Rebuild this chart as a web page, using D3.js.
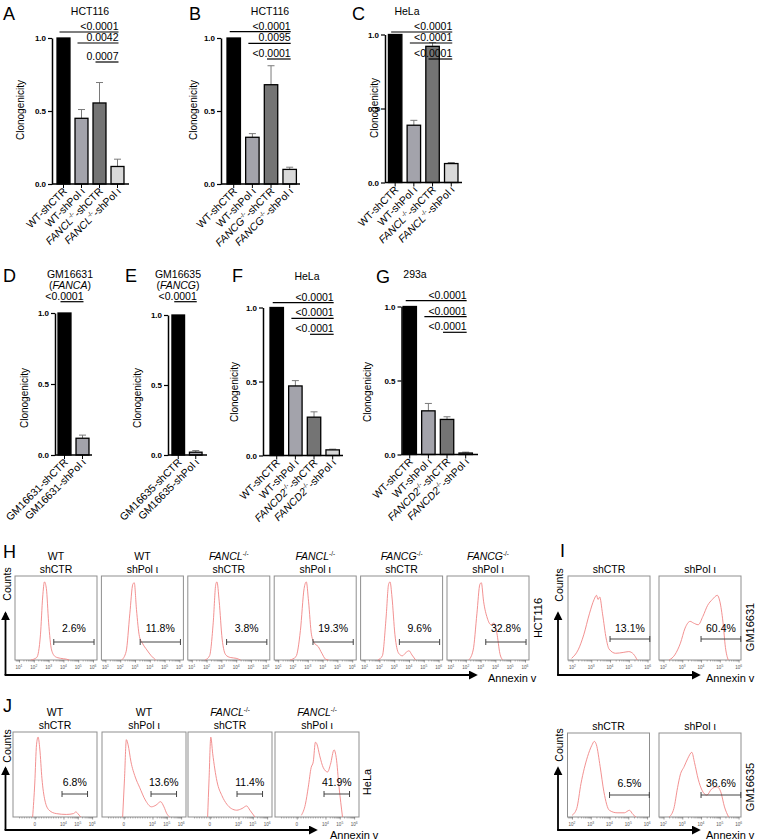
<!DOCTYPE html>
<html><head><meta charset="utf-8">
<script src="https://cdn.jsdelivr.net/npm/d3@7"></script>
<style>body{margin:0;background:#fff}svg{display:block}</style>
</head><body><svg id="c" width="757" height="840"></svg>
<script>
// ================= DATA =================
const yTicks = [0, 0.5, 1.0];
const catsA = ["WT-shCTR", "WT-shPol ι", "FANCL-/--shCTR", "FANCL-/--shPol ι"];
const valsA = [1.0, 0.45, 0.555, 0.12];
const errA  = [0, 0.06, 0.14, 0.05];
const pA    = ["<0.0001", "0.0042", "0.0007"];
const catsB = ["WT-shCTR", "WT-shPol ι", "FANCG-/--shCTR", "FANCG-/--shPol ι"];
const valsB = [1.0, 0.32, 0.68, 0.10];
const errB  = [0, 0.025, 0.13, 0.015];
const pB    = ["<0.0001", "0.0095", "<0.0001"];
const catsC = ["WT-shCTR", "WT-shPol ι", "FANCL-/--shCTR", "FANCL-/--shPol ι"];
const valsC = [1.0, 0.387, 0.92, 0.128];
const errC  = [0, 0.033, 0.025, 0.007];
const pC    = ["<0.0001", "<0.0001", "<0.0001"];
const catsD = ["GM16631-shCTR", "GM16631-shPol ι"];
const valsD = [1.0, 0.118];
const errD  = [0, 0.022];
const pD    = ["<0.0001"];
const catsE = ["GM16635-shCTR", "GM16635-shPol ι"];
const valsE = [1.0, 0.02];
const errE  = [0, 0.012];
const pE    = ["<0.0001"];
const catsF = ["WT-shCTR", "WT-shPol ι", "FANCD2-/--shCTR", "FANCD2-/--shPol ι"];
const valsF = [1.0, 0.47, 0.259, 0.038];
const errF  = [0, 0.036, 0.036, 0.005];
const pF    = ["<0.0001", "<0.0001", "<0.0001"];
const catsG = ["WT-shCTR", "WT-shPol ι", "FANCD2-/--shCTR", "FANCD2-/--shPol ι"];
const valsG = [1.0, 0.295, 0.237, 0.01];
const errG  = [0, 0.05, 0.018, 0.006];
const pG    = ["<0.0001", "<0.0001", "<0.0001"];

// Flow cytometry histograms: [log10 Annexin V, relative counts]
const histH1 = [[1.8,0],[2.2,0.03],[2.45,0.3],[2.6,0.75],[2.72,0.93],[2.85,0.85],[3.0,0.45],[3.2,0.12],[3.45,0.04],[3.8,0.02],[4.2,0.01],[4.4,0]];
const histH2 = [[2.1,0],[2.4,0.1],[2.65,0.55],[2.85,0.9],[2.95,0.92],[3.1,0.6],[3.3,0.28],[3.5,0.2],[3.8,0.12],[4.1,0.05],[4.4,0]];
const histH3 = [[1.9,0],[2.2,0.05],[2.45,0.45],[2.62,0.9],[2.7,0.93],[2.85,0.7],[3.05,0.25],[3.3,0.06],[3.6,0.03],[4.0,0.02],[4.3,0]];
const histH4 = [[1.8,0],[2.2,0.04],[2.5,0.35],[2.75,0.85],[2.9,0.93],[3.05,0.7],[3.25,0.3],[3.45,0.2],[3.7,0.16],[3.95,0.08],[4.2,0.01],[4.4,0]];
const histH5 = [[1.9,0],[2.2,0.05],[2.45,0.5],[2.62,0.9],[2.72,0.93],[2.85,0.75],[3.05,0.3],[3.3,0.08],[3.55,0.05],[3.8,0.09],[4.0,0.11],[4.2,0.06],[4.45,0]];
const histH6 = [[2.2,0],[2.5,0.12],[2.75,0.55],[2.95,0.9],[3.05,0.92],[3.2,0.7],[3.45,0.5],[3.7,0.42],[3.9,0.44],[4.1,0.32],[4.3,0.08],[4.5,0]];
const histI1 = [[1.95,0.02],[2.3,0.12],[2.6,0.3],[2.9,0.55],[3.15,0.72],[3.28,0.77],[3.36,0.72],[3.45,0.75],[3.6,0.55],[3.8,0.25],[3.95,0.13],[4.3,0.08],[4.7,0.09],[5.0,0.1],[5.25,0.07],[5.45,0]];
const histI2 = [[2.3,0],[2.6,0.06],[2.9,0.2],[3.15,0.38],[3.42,0.46],[3.6,0.44],[3.85,0.42],[4.1,0.52],[4.35,0.65],[4.6,0.72],[4.87,0.77],[5.0,0.7],[5.17,0.45],[5.3,0.15],[5.45,0]];
const histI3 = [[2.0,0.02],[2.25,0.1],[2.48,0.4],[2.83,0.72],[3.05,0.85],[3.19,0.9],[3.3,0.86],[3.5,0.6],[3.7,0.3],[3.99,0.08],[4.4,0.05],[4.79,0.05],[5.06,0.08],[5.25,0.03],[5.41,0]];
const histI4 = [[2.3,0],[2.55,0.1],[2.75,0.35],[2.89,0.5],[3.1,0.6],[3.3,0.7],[3.51,0.77],[3.65,0.65],[3.85,0.45],[4.05,0.32],[4.31,0.26],[4.55,0.33],[4.85,0.36],[5.05,0.3],[5.25,0.12],[5.47,0]];
// J: biexponential display units (2 = "0", 4 = 10^4, 5 = 10^5, 6 = 10^6)
const histJ1 = [[1.85,0],[2.0,0.4],[2.12,0.85],[2.23,0.94],[2.35,0.8],[2.5,0.45],[2.7,0.2],[3.0,0.08],[3.5,0.04],[4.2,0.03],[4.7,0.04],[4.87,0.06],[5.0,0.04],[5.2,0]];
const histJ2 = [[1.92,0],[2.05,0.45],[2.18,0.91],[2.3,0.85],[2.5,0.65],[2.8,0.47],[3.1,0.35],[3.5,0.2],[3.93,0.12],[4.25,0.14],[4.57,0.18],[4.8,0.12],[5.0,0.04],[5.2,0]];
const histJ3 = [[1.85,0],[1.95,0.45],[2.07,0.94],[2.2,0.75],[2.5,0.42],[2.85,0.25],[3.19,0.15],[3.5,0.1],[3.88,0.08],[4.25,0.1],[4.57,0.13],[4.8,0.08],[5.15,0]];
const histJ4 = [[2.32,0.02],[2.6,0.15],[2.8,0.35],[3.0,0.58],[3.15,0.65],[3.3,0.88],[3.4,0.86],[3.6,0.72],[3.85,0.58],[4.15,0.53],[4.35,0.62],[4.6,0.79],[4.75,0.7],[4.95,0.35],[5.19,0]];

const pctH  = ["2.6%", "11.8%", "3.8%", "19.3%", "9.6%", "32.8%"];
const pctI1 = ["13.1%", "60.4%"];
const pctI2 = ["6.5%", "36.6%"];
const pctJ  = ["6.8%", "13.6%", "11.4%", "41.9%"];
const headH = [["WT","shCTR"],["WT","shPol ι"],["FANCL-/-","shCTR"],["FANCL-/-","shPol ι"],["FANCG-/-","shCTR"],["FANCG-/-","shPol ι"]];
const headI = [["shCTR"],["shPol ι"]];
const headJ = [["WT","shCTR"],["WT","shPol ι"],["FANCL-/-","shCTR"],["FANCL-/-","shPol ι"]];
const logTicksH = [1, 2, 3, 4, 5, 6];
const logTicksI = [2, 3, 4, 5, 6];
const biexTicksJ = [2, 4, 5, 6];
const biexLabelsJ = ["0", "4", "5", "6"];
const gateH = [3.35, 6.07], gateI = [4.0, 6.12], gateJ = [3.9, 5.68];

// ================= DRAWING =================
const FONT = '"Liberation Sans", Arial, Helvetica, sans-serif';
const svg = d3.select("#c").attr("font-family", FONT);
const barColors4 = ["#000000", "#a3a3ab", "#747474", "#d9d9d9"];
const barColors2 = ["#000000", "#a3a3ab"];
const histColor = "#f08585";

function rich(t, str, fs) {
  const m = str.match(/^(.*?)(FANC[A-Z0-9]+)(-\/-)?(.*)$/);
  if (!m) { t.text(str); return; }
  if (m[1]) t.append("tspan").text(m[1]);
  t.append("tspan").attr("font-style", "italic").text(m[2]);
  if (m[3]) {
    t.append("tspan").attr("font-size", fs * 0.6).attr("dy", -fs * 0.42).text(m[3]);
    if (m[4]) t.append("tspan").attr("dy", fs * 0.42).text(m[4]);
  } else if (m[4]) t.append("tspan").text(m[4]);
}

function letter(l, x, y) {
  svg.append("text").attr("x", x).attr("y", y).attr("font-size", 18).text(l);
}

const barPanels = [
  {L:"A", lx:3, ly:20, title:["HCT116"], tx:90, ty:[15], cats:catsA, vals:valsA, errs:errA, ps:pA,
   ax:52, x0:54.5, x1:126.5, xEnd:129, y0:184, y1:38, pY:[32,43,62], ylx:20, yly:110},
  {L:"B", lx:189, ly:20, title:["HCT116"], tx:270, ty:[15], cats:catsB, vals:valsB, errs:errB, ps:pB,
   ax:221, x0:224.4, x1:299, xEnd:300, y0:184, y1:38, pY:[31.7,43.3,59], ylx:193, yly:110},
  {L:"C", lx:352, ly:20, title:["HeLa"], tx:407, ty:[15], cats:catsC, vals:valsC, errs:errC, ps:pC,
   ax:385, x0:385.8, x1:460.6, xEnd:462, y0:182.5, y1:34.5, pY:[32,43,59], ylx:374, yly:108},
  {L:"D", lx:3, ly:282, title:["GM16631","(FANCA)"], tx:70, ty:[278,289], cats:catsD, vals:valsD, errs:errD, ps:pD,
   ax:55, x0:55.5, x1:91.5, xEnd:92, y0:455, y1:313, pY:[301.7], ylx:24, yly:398},
  {L:"E", lx:125, ly:282, title:["GM16635","(FANCG)"], tx:178, ty:[278,289], cats:catsE, vals:valsE, errs:errE, ps:pE,
   ax:168, x0:169.5, x1:204.5, xEnd:207, y0:455, y1:315, pY:[301.7], ylx:137, yly:398},
  {L:"F", lx:232, ly:282, title:["HeLa"], tx:307, ty:[280], cats:catsF, vals:valsF, errs:errF, ps:pF,
   ax:263, x0:267.4, x1:342, xEnd:343, y0:455.5, y1:307.5, pY:[302.7,318.3,334.3], ylx:234, yly:392},
  {L:"G", lx:376, ly:283, title:["293a"], tx:415, ty:[278], cats:catsG, vals:valsG, errs:errG, ps:pG,
   ax:401.5, x0:400.4, x1:475, xEnd:478, y0:454.5, y1:306.5, pY:[300.7,316.7,332.3], ylx:367, yly:392}
];

function drawBarPanel(p) {
  const g = svg.append("g");
  letter(p.L, p.lx, p.ly);
  p.title.forEach((t, i) => {
    const tt = g.append("text").attr("x", p.tx).attr("y", p.ty[i]).attr("text-anchor", "middle").attr("font-size", 10.5);
    rich(tt, t, 10.5);
  });
  const x = d3.scaleBand().domain(p.cats).range([p.x0, p.x1]).paddingInner(0.28).paddingOuter(0.14);
  const y = d3.scaleLinear().domain([0, 1]).range([p.y0, p.y1]);
  const bw = x.bandwidth();
  const colors = p.cats.length === 4 ? barColors4 : barColors2;
  const eb = g.append("g").attr("stroke", "#7a7a7a").attr("stroke-width", 1);
  p.vals.forEach((v, i) => {
    if (!p.errs[i]) return;
    const cx = x(p.cats[i]) + bw / 2;
    eb.append("line").attr("x1", cx).attr("x2", cx).attr("y1", y(v)).attr("y2", y(v + p.errs[i]));
    eb.append("line").attr("x1", cx - 3.5).attr("x2", cx + 3.5).attr("y1", y(v + p.errs[i])).attr("y2", y(v + p.errs[i]));
  });
  g.selectAll("rect.bar").data(p.vals).join("rect").attr("class", "bar")
    .attr("x", (d, i) => x(p.cats[i])).attr("y", d => y(d))
    .attr("width", bw).attr("height", d => p.y0 - y(d))
    .attr("fill", (d, i) => colors[i]).attr("stroke", "#000").attr("stroke-width", 1.3);
  const ya = g.append("g").attr("transform", `translate(${p.ax},0)`)
    .call(d3.axisLeft(y).tickValues(yTicks).tickFormat(d3.format(".1f")).tickSize(4).tickSizeOuter(0).tickPadding(2));
  ya.select(".domain").attr("stroke-width", 1.5);
  ya.selectAll(".tick line").attr("stroke-width", 1.2);
  ya.selectAll(".tick text").attr("font-family", FONT).attr("font-size", 8).attr("font-weight", "bold");
  const xa = g.append("g").attr("transform", `translate(0,${p.y0})`)
    .call(d3.axisBottom(x).tickSize(4).tickSizeOuter(0).tickFormat(""));
  xa.select(".domain").remove();
  xa.selectAll(".tick line").attr("stroke-width", 1);
  g.append("line").attr("x1", p.ax).attr("x2", p.xEnd).attr("y1", p.y0).attr("y2", p.y0).attr("stroke", "#000").attr("stroke-width", 1.5);
  p.cats.forEach(c => {
    const t = g.append("text").attr("text-anchor", "end").attr("font-size", 10.5)
      .attr("transform", `translate(${x(c) + bw / 2 + 4},${p.y0 + 8}) rotate(-45)`);
    rich(t, c, 10.5);
  });
  g.append("text").attr("transform", `translate(${p.ylx},${p.yly}) rotate(-90)`).attr("text-anchor", "middle")
    .attr("dy", "0.35em").attr("font-size", 10).text("Clonogenicity");
  const last = p.cats[p.cats.length - 1];
  const xe = x(last) + bw / 2 + 1;
  p.ps.forEach((s, i) => {
    const xs = x(p.cats[i]) + bw / 2 - 4;
    g.append("line").attr("x1", xs).attr("x2", xe).attr("y1", p.pY[i]).attr("y2", p.pY[i]).attr("stroke", "#000").attr("stroke-width", 1.2);
    g.append("text").attr("x", xe).attr("y", p.pY[i] - 2).attr("text-anchor", "end").attr("font-size", 10.5).text(s);
  });
}
barPanels.forEach(drawBarPanel);

// ---- flow ----
svg.append("defs").append("marker").attr("id", "arr").attr("viewBox", "0 0 10 10")
  .attr("refX", 8).attr("refY", 5).attr("markerWidth", 9).attr("markerHeight", 9)
  .attr("markerUnits", "userSpaceOnUse").attr("orient", "auto")
  .append("path").attr("d", "M0,0L10,5L0,10z").attr("fill", "#000");

function arrows(x, y, ytip, xtip) {
  svg.append("line").attr("x1", x).attr("x2", x).attr("y1", y).attr("y2", ytip).attr("stroke", "#000").attr("stroke-width", 1.8).attr("marker-end", "url(#arr)");
  svg.append("line").attr("x1", x - 0.9).attr("x2", xtip).attr("y1", y).attr("y2", y).attr("stroke", "#000").attr("stroke-width", 1.8).attr("marker-end", "url(#arr)");
}
function vlabel(t, x, y, fs) {
  svg.append("text").attr("transform", `translate(${x},${y}) rotate(-90)`).attr("text-anchor", "middle")
    .attr("dy", "0.35em").attr("font-size", fs).text(t);
}
function hlabel(t, x, y) {
  svg.append("text").attr("x", x).attr("y", y).attr("font-size", 11).text(t);
}

function drawFlow(cfg) {
  cfg.lefts.forEach((left, i) => {
    const g = svg.append("g");
    let x, xv;
    if (cfg.kind === "log") {
      x = d3.scaleLog().domain([10 ** cfg.dom[0], 10 ** cfg.dom[1]]).range([left, left + cfg.w]);
      xv = e => 10 ** e;
    } else {
      x = d3.scaleLinear().domain(cfg.dom).range([left, left + cfg.w]);
      xv = e => e;
    }
    const y = d3.scaleLinear().domain([0, 1]).range([cfg.bottom, cfg.top]);
    g.append("rect").attr("x", left).attr("y", cfg.top).attr("width", cfg.w).attr("height", cfg.bottom - cfg.top)
      .attr("fill", "none").attr("stroke", "#8f8f8f").attr("stroke-width", 1);
    const major = cfg.ticks.map(xv);
    let minor = [];
    if (cfg.kind === "log") {
      for (let d = Math.floor(cfg.dom[0]); d < 6; d++) for (let k = 2; k < 10; k++) {
        const e = d + Math.log10(k);
        if (e > cfg.dom[0] && e < cfg.dom[1]) minor.push(10 ** e);
      }
    } else {
      for (let u = 0.9; u < 3.9; u += 0.17) minor.push(u);
      for (let d = 4; d < 6; d++) for (let k = 2; k < 10; k++) minor.push(d + Math.log10(k));
    }
    g.append("g").attr("transform", `translate(0,${cfg.bottom})`)
      .call(d3.axisBottom(x).tickValues(minor).tickSize(1.5).tickFormat(""))
      .call(a => { a.select(".domain").remove(); a.selectAll("line").attr("stroke", "#666").attr("stroke-width", 0.5); });
    const ma = g.append("g").attr("transform", `translate(0,${cfg.bottom})`)
      .call(d3.axisBottom(x).tickValues(major).tickSize(2.5).tickFormat("").tickSizeOuter(0));
    ma.select(".domain").remove();
    ma.selectAll("line").attr("stroke", "#555").attr("stroke-width", 0.6);
    cfg.ticks.forEach((t, k) => {
      const tx = g.append("text").attr("x", x(xv(t))).attr("y", cfg.bottom + 8.5).attr("text-anchor", "middle")
        .attr("font-size", 4.5).attr("fill", "#555");
      const lab = cfg.tickLabels ? cfg.tickLabels[k] : String(t);
      if (lab === "0") tx.text("0");
      else { tx.append("tspan").text("10"); tx.append("tspan").attr("font-size", 3.3).attr("dy", -2).text(lab); }
    });
    g.append("path").datum(cfg.hists[i])
      .attr("d", d3.line().x(d => x(xv(d[0]))).y(d => y(d[1])).curve(d3.curveMonotoneX))
      .attr("fill", "none").attr("stroke", histColor).attr("stroke-width", 0.9);
    const gx1 = x(xv(cfg.gate[0])), gx2 = x(xv(cfg.gate[1]));
    const gg = g.append("g").attr("stroke", "#444").attr("stroke-width", 1);
    gg.append("line").attr("x1", gx1).attr("x2", gx2).attr("y1", cfg.gateY).attr("y2", cfg.gateY);
    gg.append("line").attr("x1", gx1).attr("x2", gx1).attr("y1", cfg.gateY - 3).attr("y2", cfg.gateY + 3);
    gg.append("line").attr("x1", gx2).attr("x2", gx2).attr("y1", cfg.gateY - 3).attr("y2", cfg.gateY + 3);
    g.append("text").attr("x", (gx1 + gx2) / 2).attr("y", cfg.pctY).attr("text-anchor", "middle")
      .attr("font-size", 10.5).text(cfg.pcts[i]);
    const hd = cfg.heads[i];
    const off = cfg.headY.length - hd.length;
    hd.forEach((h, k) => {
      const t = g.append("text").attr("x", left + cfg.w / 2).attr("y", cfg.headY[k + off]).attr("text-anchor", "middle").attr("font-size", 10.5);
      rich(t, h, 10.5);
    });
  });
}

// H
letter("H", 3, 558);
drawFlow({kind:"log", lefts:[15,101.4,187.8,274.2,360.6,447], w:82, top:576, bottom:660, dom:[0.73,6.27],
  ticks:logTicksH, hists:[histH1,histH2,histH3,histH4,histH5,histH6], gate:gateH, gateY:642, pctY:632,
  pcts:pctH, heads:headH, headY:[560,573]});
arrows(5.5, 675, 613, 476);
vlabel("Counts", 7, 584, 10.5);
hlabel("Annexin v", 488, 682);
vlabel("HCT116", 538, 618, 11);

// I
svg.append("text").attr("x", 560).attr("y", 557).attr("font-size", 18).text("I");
drawFlow({kind:"log", lefts:[568,659], w:82, top:576, bottom:660, dom:[1.76,6.13],
  ticks:logTicksI, hists:[histI1,histI2], gate:gateI, gateY:639, pctY:632,
  pcts:pctI1, heads:headI, headY:[573]});
arrows(558, 675, 613, 699);
vlabel("Counts", 559, 585, 10.5);
hlabel("Annexin v", 706, 682);
vlabel("GM16631", 750, 627, 11);

drawFlow({kind:"log", lefts:[567.5,659], w:82, top:733, bottom:817, dom:[1.76,6.13],
  ticks:logTicksI, hists:[histI3,histI4], gate:gateI, gateY:795, pctY:786.5,
  pcts:pctI2, heads:headI, headY:[729.5]});
arrows(558, 830, 768, 699);
vlabel("Counts", 559, 745, 10.5);
hlabel("Annexin v", 706, 839);
vlabel("GM16635", 750, 787, 11);

// J
letter("J", 3, 712);
drawFlow({kind:"lin", lefts:[13,102,188,275], w:84, top:732, bottom:817, dom:[0.48,6.34],
  ticks:biexTicksJ, tickLabels:biexLabelsJ, hists:[histJ1,histJ2,histJ3,histJ4], gate:gateJ, gateY:794, pctY:785.5,
  pcts:pctJ, heads:headJ, headY:[716,729]});
arrows(5.5, 830, 768, 316);
vlabel("Counts", 7, 746, 10.5);
hlabel("Annexin v", 330, 839);
vlabel("HeLa", 367, 782, 11);
</script></body></html>
